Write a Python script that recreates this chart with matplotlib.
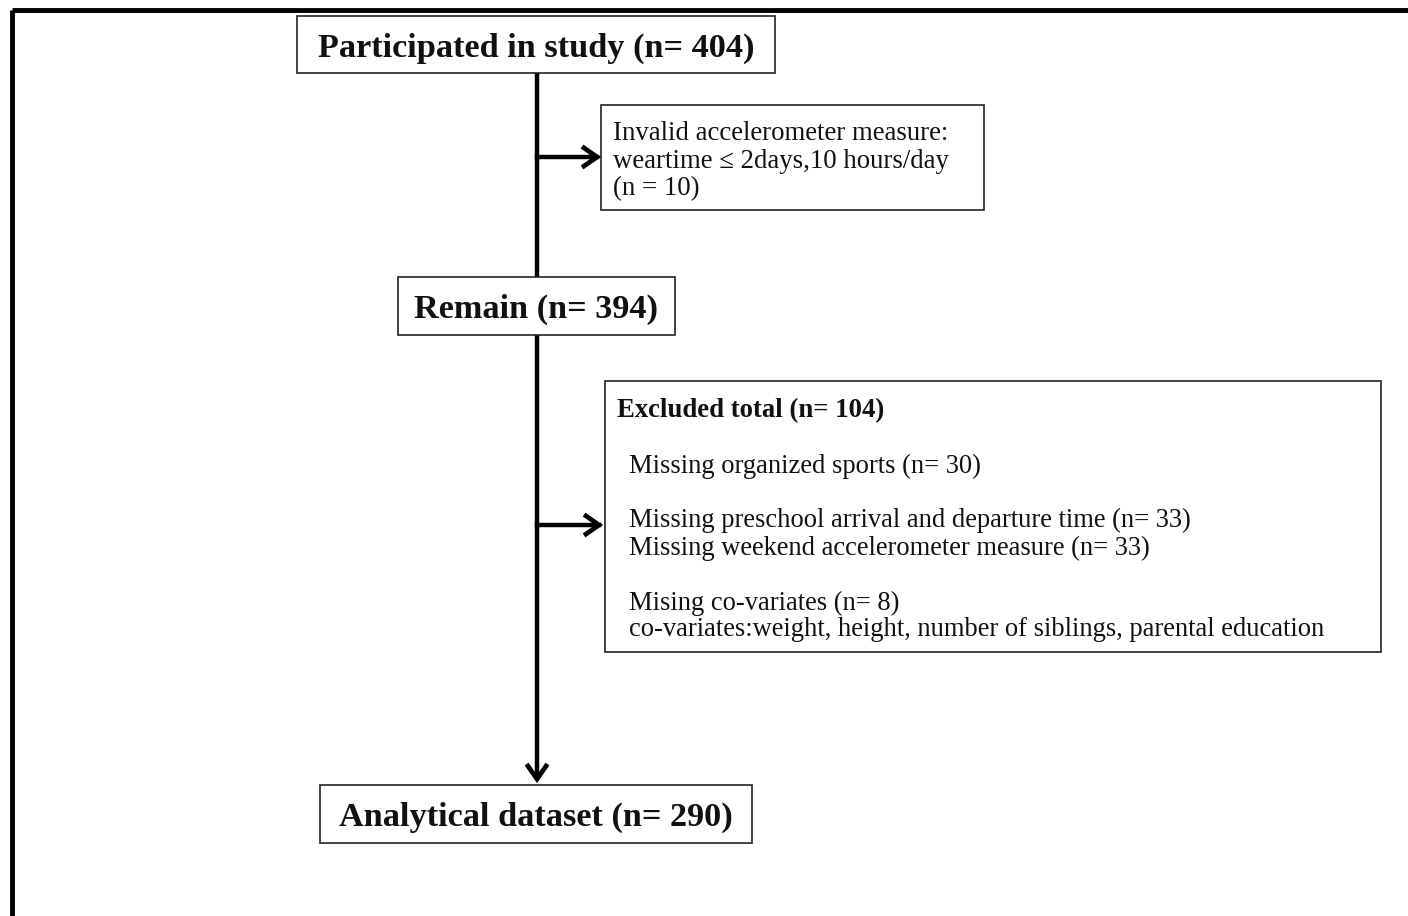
import matplotlib
matplotlib.use("Agg")
import matplotlib.pyplot as plt
from matplotlib.patches import Rectangle

# ---- content ----
main_labels = ["Participated in study (n= 404)", "Remain (n= 394)", "Analytical dataset (n= 290)"]
exclusion1_lines = ["Invalid accelerometer measure:", "weartime \u2264 2days,10 hours/day", "(n = 10)"]
exclusion2_title = "Excluded total (n= 104)"
exclusion2_lines = ["Missing organized sports (n= 30)",
                    "Missing preschool arrival and departure time (n= 33)",
                    "Missing weekend accelerometer measure (n= 33)",
                    "Mising co-variates (n= 8)",
                    "co-variates:weight, height, number of siblings, parental education"]

# ---- layout (pixels) ----
W, H = 1408, 916
fig = plt.figure(figsize=(W / 100, H / 100), dpi=100)
ax = fig.add_axes([0, 0, 1, 1])
ax.set_xlim(0, W)
ax.set_ylim(H, 0)
ax.axis("off")

serif = ["Liberation Serif", "DejaVu Serif"]
tc = "#111111"

# outer frame
ax.plot([12, W + 5], [10, 10], color="black", lw=3.5, solid_capstyle="butt")
ax.plot([12, 12], [10, H + 5], color="black", lw=3.5, solid_capstyle="butt")

def box(x0, y0, x1, y1):
    ax.add_patch(Rectangle((x0, y0), x1 - x0, y1 - y0, fill=True, facecolor="white",
                           edgecolor="#222222", lw=1.2, zorder=3))

main_boxes = [(297, 16, 775, 73), (398, 277, 675, 335), (320, 785, 752, 843)]
cx = 537

# vertical trunk
ax.plot([cx, cx], [73, 277], color="black", lw=3.2, zorder=2)
ax.plot([cx, cx], [335, 778], color="black", lw=3.2, zorder=2)

def chevron(x, y, direction):
    s = 13
    if direction == "right":
        ax.plot([x - s, x, x - s], [y - s * 0.7, y, y + s * 0.7], color="black", lw=3.4,
                solid_joinstyle="miter", zorder=4)
    else:
        ax.plot([x - s * 0.7, x, x + s * 0.7], [y - s, y, y - s], color="black", lw=3.4,
                solid_joinstyle="miter", zorder=4)

ax.plot([cx, 597], [157, 157], color="black", lw=3.2, zorder=2)
chevron(597, 157, "right")
ax.plot([cx, 599], [525, 525], color="black", lw=3.2, zorder=2)
chevron(599, 525, "right")
chevron(cx, 779, "down")

for (x0, y0, x1, y1), lab in zip(main_boxes, main_labels):
    box(x0, y0, x1, y1)
    ax.text((x0 + x1) / 2, (y0 + y1) / 2 + 3.5, lab, ha="center", va="center", fontsize=24.7,
            fontweight="bold", family=serif, color=tc, zorder=5)

# exclusion box 1
box(601, 105, 984, 210)
for i, t in enumerate(exclusion1_lines):
    ax.text(613, 134 + i * 27.5, t, ha="left", va="center", fontsize=19.3,
            family=serif, color=tc, zorder=5)

# exclusion box 2
box(605, 381, 1381, 652)
ax.text(617, 411, exclusion2_title, ha="left", va="center", fontsize=19.3,
        fontweight="bold", family=serif, color=tc, zorder=5)
ys = [466, 520, 548, 603, 630]
for y, t in zip(ys, exclusion2_lines):
    ax.text(629, y, t, ha="left", va="center", fontsize=19.1, family=serif, color=tc, zorder=5)

fig.savefig("out.png", dpi=100, facecolor="white")
